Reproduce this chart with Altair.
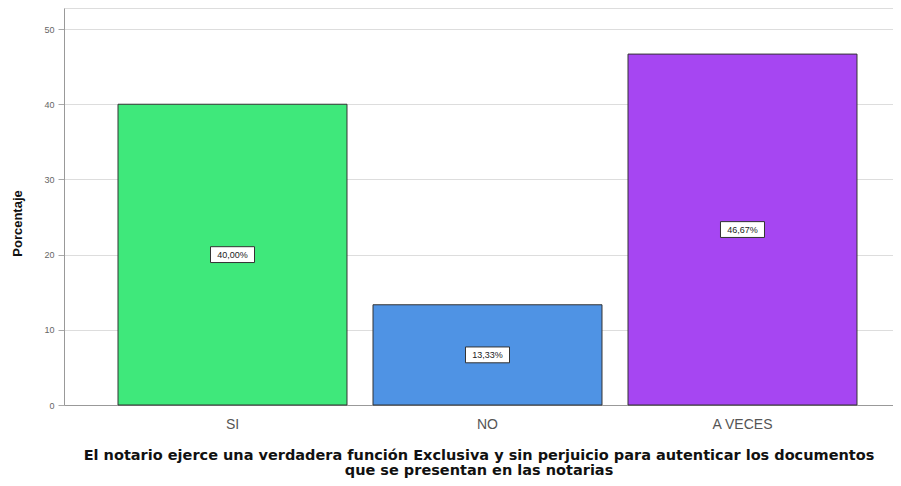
import altair as alt
import pandas as pd

categories = ["SI", "NO", "A VECES"]
values = [40.00, 13.33, 46.67]
labels = ["40,00%", "13,33%", "46,67%"]
colors = ["#3fe87b", "#4f93e4", "#a646f2"]

df = pd.DataFrame({"cat": categories, "val": values, "lab": labels})
df["mid"] = df["val"] / 2

xscale = alt.Scale(domain=categories, paddingInner=0.102, paddingOuter=0.1765, align=0.6)
yscale = alt.Scale(domain=[0, 52.8], nice=False)

base = alt.Chart(df)

bars = base.mark_bar(stroke="#333333", strokeWidth=1).encode(
    x=alt.X("cat:N", scale=xscale, sort=categories,
            axis=alt.Axis(
                title=["El notario ejerce una verdadera función Exclusiva y sin perjuicio para autenticar los documentos",
                       "que se presentan en las notarias"],
                labelAngle=0, labelFontSize=14, labelColor="#555555", labelFont="Liberation Sans",
                labelPadding=12, ticks=False, domainColor="#999999",
                titleFontSize=14.5, titleFont="DejaVu Sans", titleFontWeight="bold",
                titleColor="#111111", titlePadding=17, titleLineHeight=15)),
    y=alt.Y("val:Q", scale=yscale,
            axis=alt.Axis(title="Porcentaje", values=[0, 10, 20, 30, 40, 50],
                          labelFontSize=9, labelColor="#666666", labelFont="Liberation Sans",
                          tickColor="#aaaaaa", tickSize=6, labelPadding=4, domainColor="#999999",
                          gridColor="#dddddd", titleFontSize=13, titleFont="Liberation Sans",
                          titleFontWeight="bold", titleColor="#111111",
                          titleX=-40, titleY=215)),
    color=alt.Color("cat:N", scale=alt.Scale(domain=categories, range=colors), legend=None),
)

boxes = base.mark_point(
    shape="M-1,-0.36L1,-0.36L1,0.36L-1,0.36Z", filled=True, fill="white",
    stroke="#333333", strokeWidth=1, opacity=1, size=1936,
).encode(
    x=alt.X("cat:N", scale=xscale, sort=categories),
    y=alt.Y("mid:Q", scale=yscale),
)

texts = base.mark_text(fontSize=9, font="Liberation Sans", color="#222222").encode(
    x=alt.X("cat:N", scale=xscale, sort=categories),
    y=alt.Y("mid:Q", scale=yscale),
    text="lab:N",
)

chart = (bars + boxes + texts).properties(
    width=829, height=397,
    autosize=alt.AutoSizeParams(type="none"),
    padding={"left": 56, "top": 0, "right": 0, "bottom": 78},
).configure_view(stroke=None).configure(background="white")

chart.save("out.html", embed_options={"renderer": "svg", "actions": False})
